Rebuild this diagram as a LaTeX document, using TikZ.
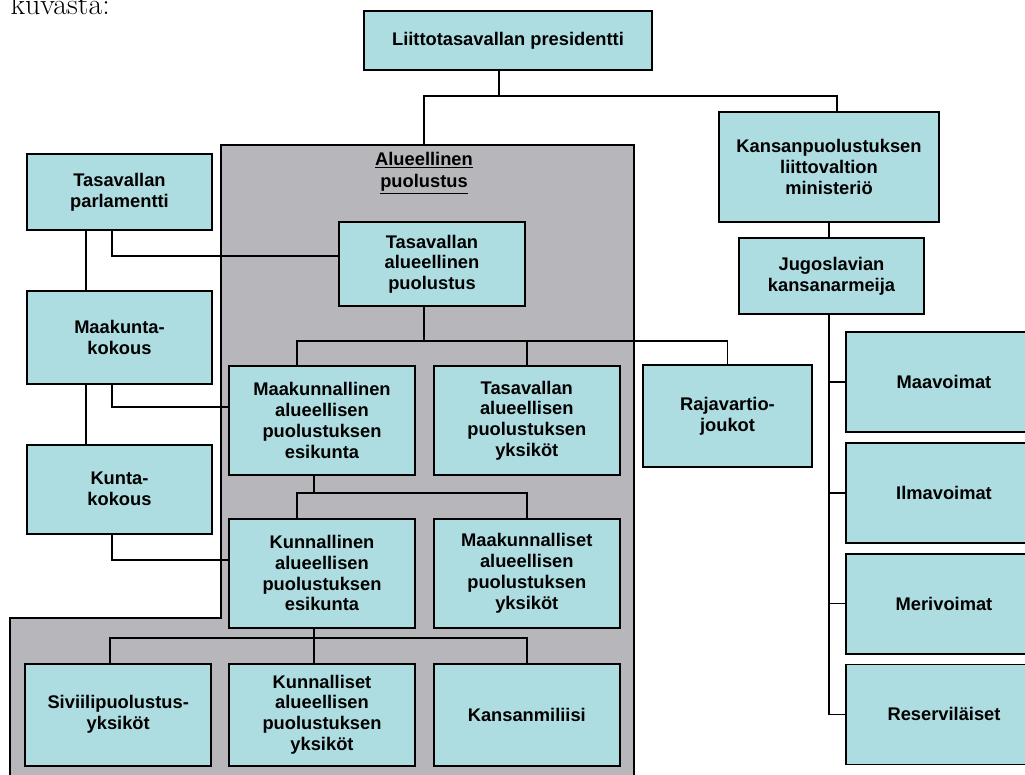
\documentclass[tikz,border=0pt]{standalone}
\usepackage{fontspec}
\newfontfamily\arialfont{Liberation Sans}
\usetikzlibrary{positioning}
\definecolor{turkoosi}{RGB}{173,221,225}
\definecolor{harmaa}{RGB}{183,183,187}

\begin{document}
\begin{tikzpicture}[x=1pt,y=-1pt]
\tikzset{
    laatikko/.style={rectangle, draw=black, fill=turkoosi, line width=1.8pt, inner sep=2pt,
                     align=center, font=\arialfont\bfseries\fontsize{18.3}{20.7}\selectfont},
    viiva/.style={line width=1.6pt},
    otsikko/.style={align=center, font=\arialfont\bfseries\fontsize{18.3}{22}\selectfont}
}
\useasboundingbox (0,0) rectangle (1025,775);
\clip (0,0) rectangle (1025,775);

% harmaa alue
\filldraw[fill=harmaa, draw=black, line width=1.6pt] (221,145) -- (634,145) -- (634,790) -- (10,790) -- (10,618) -- (221,618) -- cycle;
\coordinate (alueyla) at (424,145);
\node[otsikko] (alue) at (424,173) {\underline{Alueellinen}\\\underline{puolustus}};

\node[anchor=base west, font=\fontsize{30}{36}\selectfont] (kuvasta) at (7,15) {kuvasta:};

\node[laatikko, minimum width=288pt, minimum height=59pt] (pres) at (508,40.5) {Liittotasavallan presidentti};

\node[laatikko, minimum width=185pt, minimum height=76pt] (parl) at (119.5,192) {Tasavallan\\parlamentti};
\node[laatikko, minimum width=185pt, minimum height=93pt, below=59pt of parl] (maak) {Maakunta-\\kokous};
\node[laatikko, minimum width=185pt, minimum height=89pt, below=59pt of maak] (kunt) {Kunta-\\kokous};

\node[laatikko, minimum width=186pt, minimum height=84pt] (tap) at (432,264) {Tasavallan\\alueellinen\\puolustus};
\node[laatikko, minimum width=186pt, minimum height=109pt] (maesi) at (322,420.5) {Maakunnallinen\\alueellisen\\puolustuksen\\esikunta};
\node[laatikko, minimum width=186pt, minimum height=109pt, right=17pt of maesi] (tapy) {Tasavallan\\alueellisen\\puolustuksen\\yksiköt};
\node[laatikko, minimum width=169pt, minimum height=102pt] (raja) at (727.5,416) {Rajavartio-\\joukot};

\node[laatikko, minimum width=186pt, minimum height=109pt, below=42pt of maesi] (kuesi) {Kunnallinen\\alueellisen\\puolustuksen\\esikunta};
\node[laatikko, minimum width=186pt, minimum height=109pt, right=17pt of kuesi] (mapy) {Maakunnalliset\\alueellisen\\puolustuksen\\yksiköt};

\node[laatikko, minimum width=186pt, minimum height=102pt, below=34pt of kuesi] (kupy) {Kunnalliset\\alueellisen\\puolustuksen\\yksiköt};
\node[laatikko, minimum width=186pt, minimum height=102pt, left=16pt of kupy] (sivi) {Siviilipuolustus-\\yksiköt};
\node[laatikko, minimum width=186pt, minimum height=102pt, right=17pt of kupy] (milisi) {Kansanmiliisi};

\node[laatikko, minimum width=220pt, minimum height=110pt] (min) at (829,167) {Kansanpuolustuksen\\liittovaltion\\ministeriö};
\node[laatikko, minimum width=185pt, minimum height=76pt] (jka) at (831.5,276) {Jugoslavian\\kansanarmeija};

\node[laatikko, minimum width=196pt, minimum height=100pt] (maav) at (944,382) {Maavoimat};
\node[laatikko, minimum width=196pt, minimum height=100pt, below=9pt of maav] (ilma) {Ilmavoimat};
\node[laatikko, minimum width=196pt, minimum height=100pt, below=9pt of ilma] (meri) {Merivoimat};
\node[laatikko, minimum width=196pt, minimum height=100pt, below=9pt of meri] (res) {Reserviläiset};

% viivat
\draw[viiva] ([xshift=-9pt]pres.south) -- ++(0,25) -| (alueyla);
\draw[viiva] ([xshift=-9pt]pres.south) -- ++(0,25) -| ([xshift=8pt]min.north);

\draw[viiva] ([xshift=-33.5pt]parl.south) -- ([xshift=-33.5pt]maak.north);
\draw[viiva] ([xshift=-33.5pt]maak.south) -- ([xshift=-33.5pt]kunt.north);
\draw[viiva] ([xshift=-7.5pt]parl.south) |- ([yshift=8pt]tap.west);
\draw[viiva] ([xshift=-7.5pt]maak.south) |- ([yshift=13.5pt]maesi.west);
\draw[viiva] ([xshift=-7.5pt]kunt.south) |- ([yshift=13.5pt]kuesi.west);

\draw[viiva] ([xshift=-8pt]tap.south) -- ++(0,34) -| ([xshift=-25pt]maesi.north);
\draw[viiva] ([xshift=-8pt]tap.south) -- ++(0,34) -| (tapy.north);
\draw[viiva] ([xshift=-8pt]tap.south) -- ++(0,34) -| (raja.north);

\draw[viiva] ([xshift=-8pt]maesi.south) -- ++(0,17) -| ([xshift=-25pt]kuesi.north);
\draw[viiva] ([xshift=-8pt]maesi.south) -- ++(0,17) -| (mapy.north);

\draw[viiva] ([xshift=-8pt]kuesi.south) -- ++(0,9) -| ([xshift=-8pt]sivi.north);
\draw[viiva] ([xshift=-8pt]kuesi.south) -- ([xshift=-8pt]kupy.north);
\draw[viiva] ([xshift=-8pt]kuesi.south) -- ++(0,9) -| (milisi.north);

\draw[viiva] (min.south) -- (min.south |- jka.north);
\draw[viiva] ([xshift=-2.5pt]jka.south) |- (maav.west);
\draw[viiva] ([xshift=-2.5pt]jka.south) |- (ilma.west);
\draw[viiva] ([xshift=-2.5pt]jka.south) |- (meri.west);
\draw[viiva] ([xshift=-2.5pt]jka.south) |- (res.west);

\end{tikzpicture}
\end{document}
